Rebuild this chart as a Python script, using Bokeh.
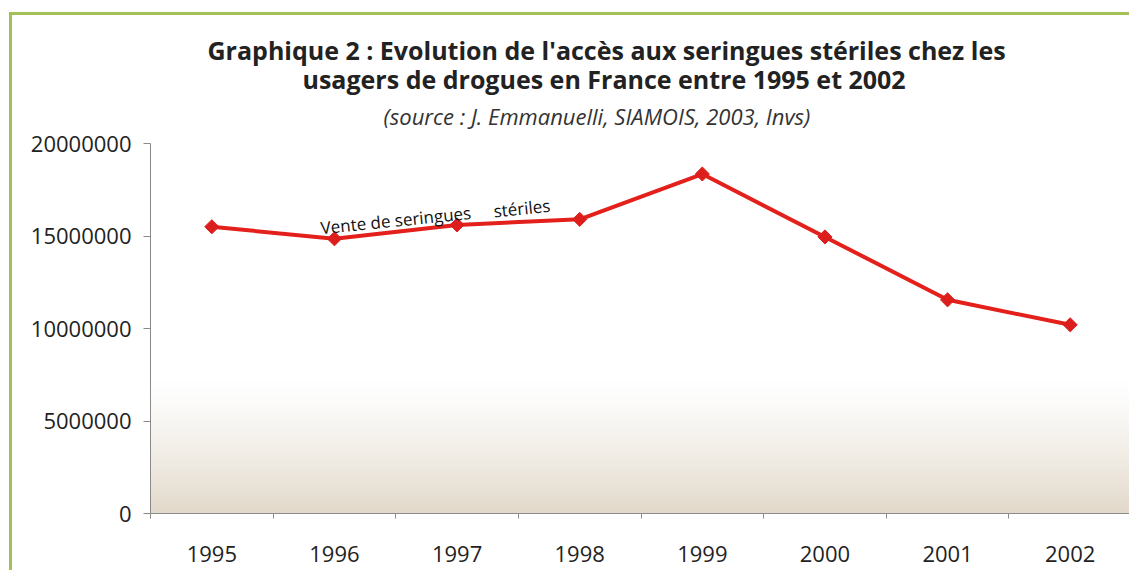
import numpy as np
from bokeh.plotting import figure
from bokeh.models import (ColumnDataSource, FixedTicker, BasicTickFormatter,
                          Label, Title, Range1d)
from bokeh.embed import file_html
from bokeh.resources import INLINE

years = ["1995", "1996", "1997", "1998", "1999", "2000", "2001", "2002"]
ventes = [15500000, 14850000, 15600000, 15900000, 18350000, 14950000, 11550000, 10200000]
y_ticks = [0, 5000000, 10000000, 15000000, 20000000]

title1 = "Graphique 2 : Evolution de l'accès aux seringues stériles chez les"
title2 = "usagers de drogues en France entre 1995 et 2002"
subtitle = "(source : J. Emmanuelli, SIAMOIS, 2003, Invs)"
series_label_a = "Vente de seringues"
series_label_b = "stériles"

FONT = "Open Sans"
RED = "#e3201c"

xpos = [i + 0.5 for i in range(len(years))]
src = ColumnDataSource(dict(x=xpos, y=ventes))

p = figure(width=1120, height=558, output_backend="svg", toolbar_location=None,
           x_range=Range1d(0, len(years)), y_range=Range1d(0, 20000000),
           min_border_left=138, min_border_right=1, min_border_top=128,
           min_border_bottom=60)
p.title.visible = False
p.outline_line_color = None
p.grid.visible = False
p.background_fill_color = "white"
p.border_fill_color = "white"
p.margin = (12, 0, 0, 9)
p.styles = {"border-left": "3px solid #a3c054", "border-top": "3px solid #a3c054"}

# gradient background (decoration)
n = 200
img = np.zeros((n, 1), dtype=np.uint32)
view = img.view(dtype=np.uint8).reshape((n, 1, 4))
top_c = np.array([255, 255, 255])
bot_c = np.array([226, 217, 203])
for i in range(n):
    f = i / (n - 1)  # 0 bottom, 1 top
    t = max(0.0, 1 - f / 0.36)
    t = t ** 1.3
    c = top_c + (bot_c - top_c) * t
    view[i, 0, 0:3] = c.astype(np.uint8)
    view[i, 0, 3] = 255
p.image_rgba(image=[img], x=0, y=0, dw=len(years), dh=20000000)

p.line("x", "y", source=src, line_color=RED, line_width=4)
p.scatter("x", "y", source=src, marker="square", angle=np.pi / 4, size=10,
          fill_color="#dc1f1c", line_color="#dc1f1c")

# axes
xa = p.xaxis[0]
xa.ticker = FixedTicker(ticks=xpos, minor_ticks=list(range(len(years) + 1)))
xa.major_label_overrides = {x: y for x, y in zip(xpos, years)}
xa.major_tick_line_color = None
xa.major_tick_out = 0
xa.major_tick_in = 0
xa.minor_tick_out = 5
xa.minor_tick_in = 0
xa.minor_tick_line_color = "#8a8a8a"
xa.axis_line_color = "#8a8a8a"
xa.major_label_text_font = FONT
xa.major_label_text_font_size = "22px"
xa.major_label_text_color = "#222222"
xa.major_label_standoff = 27

ya = p.yaxis[0]
ya.ticker = FixedTicker(ticks=y_ticks, minor_ticks=[])
ya.formatter = BasicTickFormatter(use_scientific=False)
ya.major_tick_out = 7
ya.major_tick_in = 0
ya.major_tick_line_color = "#8a8a8a"
ya.axis_line_color = "#8a8a8a"
ya.major_label_text_font = FONT
ya.major_label_text_font_size = "22px"
ya.major_label_text_color = "#222222"
ya.major_label_standoff = 12

# titles (first added is closest to the plot)
p.add_layout(Title(text=subtitle, align="left", offset=233, standoff=25,
                   text_font=FONT, text_font_size="22px", text_font_style="italic",
                   text_color="#333333"), "above")
p.add_layout(Title(text=title2, align="left", offset=152, standoff=-19,
                   text_font=FONT, text_font_size="25px", text_font_style="bold",
                   text_color="#222222"), "above")
p.add_layout(Title(text=title1, align="left", offset=57, standoff=5,
                   text_font=FONT, text_font_size="25px", text_font_style="bold",
                   text_color="#222222"), "above")

# series label
p.add_layout(Label(x=1.387, y=15450000, text=series_label_a, angle=0.1,
                   text_font=FONT, text_font_size="17px", text_color="#111111",
                   text_baseline="alphabetic", text_align="left"))
p.add_layout(Label(x=2.798, y=16350000, text=series_label_b, angle=0.1,
                   text_font=FONT, text_font_size="17px", text_color="#111111",
                   text_baseline="alphabetic", text_align="left"))

open("out.html", "w").write(file_html(p, INLINE))
